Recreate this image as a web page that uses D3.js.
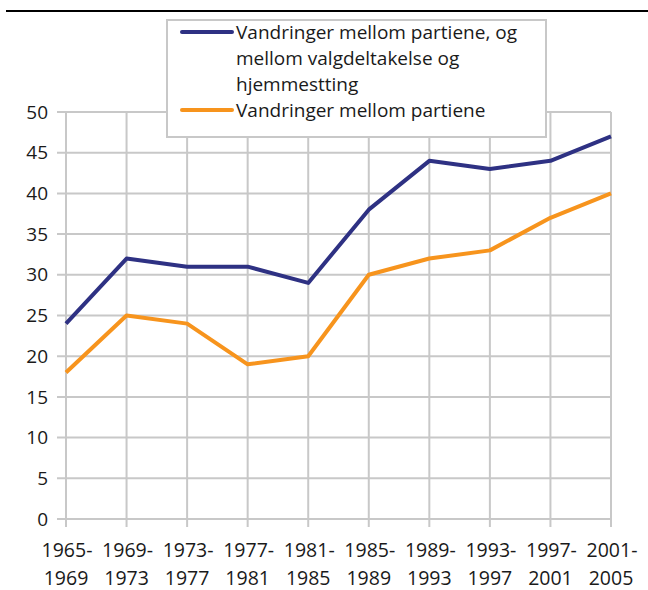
<!DOCTYPE html>
<html><head><meta charset="utf-8">
<script src="https://cdn.jsdelivr.net/npm/d3@7"></script>
<style>body{margin:0;background:#fff}svg{display:block}text{font-family:"Open Sans","Noto Sans",sans-serif;fill:#1a1a1a}</style>
</head><body><svg id="c" width="648" height="590"></svg>
<script>
const categories = ["1965-1969","1969-1973","1973-1977","1977-1981","1981-1985","1985-1989","1989-1993","1993-1997","1997-2001","2001-2005"];
const seriesBoth = [24,32,31,31,29,38,44,43,44,47];
const seriesParties = [18,25,24,19,20,30,32,33,37,40];
const yTicks = [0,5,10,15,20,25,30,35,40,45,50];
const seriesNames = ["Vandringer mellom partiene, og\nmellom valgdeltakelse og\nhjemmestting","Vandringer mellom partiene"];
const colors = ["#2e3183","#f7941d"];

const svg = d3.select("#c");
const x = d3.scalePoint().domain(categories).range([66,611]);
const y = d3.scaleLinear().domain([0,50]).range([519,112]);
const grid = "#c8c8c8";

// top rule
svg.append("line").attr("x1",6).attr("x2",648).attr("y1",11).attr("y2",11).attr("stroke","#000").attr("stroke-width",2);

// horizontal grid + y ticks
svg.append("g").selectAll("line").data(yTicks).join("line")
  .attr("x1",57).attr("x2",611).attr("y1",d=>y(d)).attr("y2",d=>y(d))
  .attr("stroke",grid).attr("stroke-width",2);
// vertical grid + x ticks
svg.append("g").selectAll("line").data(categories).join("line")
  .attr("x1",d=>x(d)).attr("x2",d=>x(d)).attr("y1",y(50)).attr("y2",527)
  .attr("stroke",grid).attr("stroke-width",2);

// y labels
svg.append("g").selectAll("text").data(yTicks).join("text")
  .attr("x",48).attr("y",d=>y(d)).attr("dy","0.35em").attr("text-anchor","end")
  .attr("font-size",19).text(d=>d);
// x labels
const xl = svg.append("g").selectAll("text").data(categories).join("text")
  .attr("text-anchor","middle").attr("font-size",19.5);
xl.append("tspan").attr("x",d=>x(d)+1).attr("y",557).text(d=>d.split("-")[0]+"-");
xl.append("tspan").attr("x",d=>x(d)).attr("y",585).text(d=>d.split("-")[1]);

// lines
const line = d3.line().x((d,i)=>x(categories[i])).y(d=>y(d));
[seriesBoth,seriesParties].forEach((s,i)=>{
  svg.append("path").attr("d",line(s)).attr("fill","none").attr("stroke",colors[i])
    .attr("stroke-width",4).attr("stroke-linejoin","round");
});

// legend
const lg = svg.append("g");
lg.append("rect").attr("x",167).attr("y",20).attr("width",379).attr("height",117)
  .attr("fill","#fff").attr("stroke",grid).attr("stroke-width",2);
const rows = [[32,58,84],[110]];
seriesNames.forEach((n,i)=>{
  lg.append("line").attr("x1",182).attr("x2",232).attr("y1",rows[i][0]).attr("y2",rows[i][0])
    .attr("stroke",colors[i]).attr("stroke-width",4).attr("stroke-linecap","round");
  n.split("\n").forEach((t,j)=>{
    lg.append("text").attr("x",236).attr("y",rows[i][j]).attr("dy","0.35em").attr("font-size",19).text(t);
  });
});
</script></body></html>
